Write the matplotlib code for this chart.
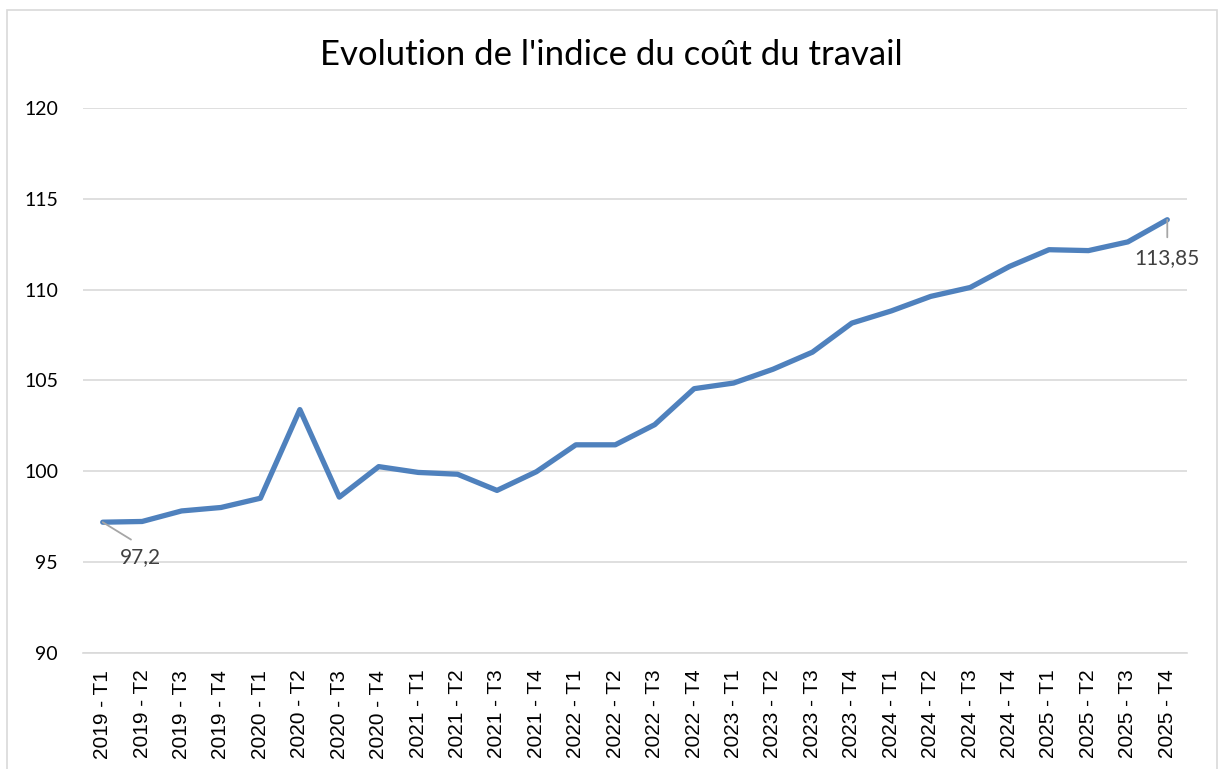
import matplotlib.pyplot as plt
from matplotlib.patches import Rectangle

# quarterly labour cost index
quarters = [
    "2019 - T1", "2019 - T2", "2019 - T3", "2019 - T4",
    "2020 - T1", "2020 - T2", "2020 - T3", "2020 - T4",
    "2021 - T1", "2021 - T2", "2021 - T3", "2021 - T4",
    "2022 - T1", "2022 - T2", "2022 - T3", "2022 - T4",
    "2023 - T1", "2023 - T2", "2023 - T3", "2023 - T4",
    "2024 - T1", "2024 - T2", "2024 - T3", "2024 - T4",
    "2025 - T1", "2025 - T2", "2025 - T3", "2025 - T4",
]
index_values = [
    97.2, 97.24, 97.82, 98.01,
    98.52, 103.4, 98.58, 100.26,
    99.94, 99.84, 98.95, 99.98,
    101.46, 101.46, 102.57, 104.55,
    104.86, 105.62, 106.56, 108.16,
    108.83, 109.63, 110.12, 111.28,
    112.2, 112.15, 112.63, 113.85,
]
y_ticks = [90, 95, 100, 105, 110, 115, 120]

LINE_COLOR = "#4f81bd"
GRID_COLOR = "#d9d9d9"
TEXT_COLOR = "#404040"

fig = plt.figure(figsize=(12.22, 7.69), dpi=100)
fig.patch.set_facecolor("white")

# light border around the chart area
fig.add_artist(Rectangle((7 / 1222, -0.01), 1210 / 1222, 1 - 10 / 769 + 0.01,
                         transform=fig.transFigure, fill=False,
                         edgecolor="#d9d9d9", linewidth=1.2))

ax = fig.add_axes([83 / 1222, 1 - 653 / 769, (1187 - 83) / 1222, (653 - 108) / 769])
x = list(range(len(quarters)))
ax.plot(x, index_values, color=LINE_COLOR, linewidth=3.8,
        solid_joinstyle="round", solid_capstyle="round", zorder=3)

ax.set_xlim(-0.5, len(quarters) - 0.5)
ax.set_ylim(90, 120)
ax.set_yticks(y_ticks)
ax.set_yticklabels([str(v) for v in y_ticks], fontsize=14, family="Lato", color="black")
ax.set_xticks(x)
ax.set_xticklabels(quarters, rotation=90, fontsize=15, family="Liberation Sans", color="black")
ax.tick_params(axis="both", length=0)
ax.tick_params(axis="y", pad=18)
ax.tick_params(axis="x", pad=12)

ax.grid(axis="y", color=GRID_COLOR, linewidth=1.2, zorder=0)
for side in ["top", "right", "left"]:
    ax.spines[side].set_visible(False)
ax.spines["bottom"].set_color(GRID_COLOR)
ax.spines["bottom"].set_linewidth(1.2)

# data labels on first and last point with leader lines
ax.annotate(f"{index_values[0]:g}".replace(".", ","), xy=(0, index_values[0]),
            xytext=(0.96, 95.3), ha="center", va="center", fontsize=15,
            family="Lato", color=TEXT_COLOR,
            arrowprops=dict(arrowstyle="-", color="#a6a6a6", lw=1.3,
                            relpos=(0.55, 1.0), shrinkA=6, shrinkB=0))
last = len(quarters) - 1
ax.annotate(f"{index_values[-1]:.2f}".replace(".", ","), xy=(last, index_values[-1]),
            xytext=(last, 111.72), ha="center", va="center", fontsize=15,
            family="Lato", color=TEXT_COLOR,
            arrowprops=dict(arrowstyle="-", color="#a6a6a6", lw=1.3,
                            relpos=(0.5, 1.0), shrinkA=6, shrinkB=0))

fig.text(0.5, 1 - 55 / 769, "Evolution de l'indice du coût du travail",
         ha="center", va="center", fontsize=25, family="Lato", color="black")

fig.savefig("out.png", dpi=100)
